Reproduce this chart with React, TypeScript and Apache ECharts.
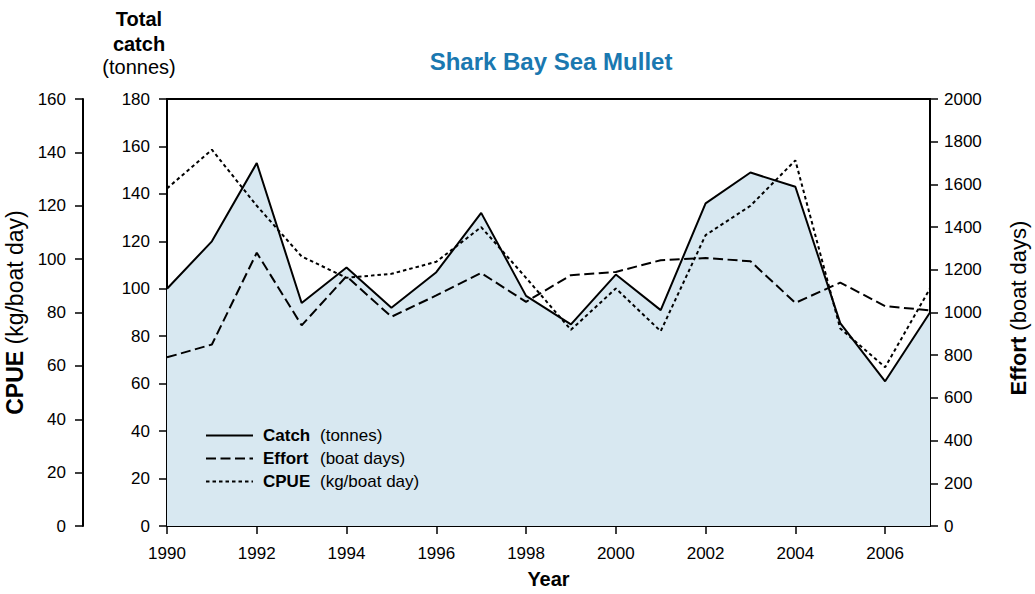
import React, { useEffect, useRef } from "react";
import * as echarts from "echarts";

const years = [1990, 1991, 1992, 1993, 1994, 1995, 1996, 1997, 1998, 1999, 2000, 2001, 2002, 2003, 2004, 2005, 2006, 2007];
const catchTonnes = [100, 120, 153, 94, 109, 92, 107, 132, 97, 85, 106, 91, 136, 149, 143, 85.5, 61, 90];
const effortDays = [790, 850, 1280, 940, 1170, 980, 1080, 1185, 1050, 1175, 1190, 1245, 1255, 1240, 1045, 1140, 1030, 1010];
const cpueKg = [126.5, 141, 120, 101, 93, 94.5, 99, 112, 93, 73.5, 89, 73, 109, 120, 137, 74, 59.5, 89];

const legendNames = ["Catch", "Effort", "CPUE"];
const legendUnits = ["(tonnes)", "(boat days)", "(kg/boat day)"];

const FONT = "'Liberation Sans', Arial, Helvetica, sans-serif";

export default function App() {
  const ref = useRef<HTMLDivElement>(null);
  useEffect(() => {
    if (!ref.current) return;
    const chart = echarts.init(ref.current, null, { renderer: "svg" });
    const pairs = (vals: number[]) => years.map((y, i) => [y, vals[i]]);
    const axisCommon = {
      axisLine: { show: true, lineStyle: { color: "#000", width: 2 } },
      axisTick: { show: true, length: 8, lineStyle: { color: "#000", width: 1.5 } },
      splitLine: { show: false },
    };
    const plain = (v: number) => String(v);
    chart.setOption({
      animation: false,
      textStyle: { fontFamily: FONT },
      title: {
        text: "Shark Bay Sea Mullet",
        left: 546,
        top: 44,
        textAlign: "center",
        textStyle: { color: "#1a78b0", fontSize: 24, fontWeight: "bold", fontFamily: FONT },
      },
      graphic: [
        {
          type: "text",
          x: 139,
          y: 6,
          style: {
            text: "Total\ncatch",
            align: "center",
            verticalAlign: "top",
            font: `bold 20px ${FONT}`,
            lineHeight: 25,
            fill: "#000",
          },
        },
        {
          type: "text",
          x: 139,
          y: 57,
          style: {
            text: "(tonnes)",
            align: "center",
            verticalAlign: "top",
            font: `20px ${FONT}`,
            fill: "#000",
          },
        },
      ],
      grid: {
        left: 167,
        right: 105,
        top: 99,
        bottom: 68,
        show: true,
        borderColor: "#000",
        borderWidth: 2,
        backgroundColor: "transparent",
        outerBoundsMode: "none",
      },
      legend: {
        orient: "vertical",
        left: 200,
        top: 422,
        itemWidth: 47,
        itemHeight: 14,
        itemGap: 6,
        data: legendNames,
        itemStyle: { opacity: 0, color: "transparent", borderWidth: 0 },
        formatter: (name: string) => {
          const i = legendNames.indexOf(name);
          return `{b|${name}}{n|${legendUnits[i]}}`;
        },
        textStyle: {
          fontFamily: FONT,
          fontSize: 17,
          color: "#000",
          padding: [0, 0, 0, 5],
          rich: {
            b: { fontWeight: "bold", fontSize: 17, width: 57, lineHeight: 18, fontFamily: FONT },
            n: { fontSize: 17, lineHeight: 18, fontFamily: FONT },
          },
        },
      },
      xAxis: {
        type: "value",
        min: 1990,
        max: 2007,
        interval: 2,
        ...axisCommon,
        axisLabel: {
          margin: 19,
          fontSize: 17,
          color: "#000",
          showMaxLabel: false,
          formatter: (v: number) => (v === 2007 ? "" : String(v)),
        },
        name: "Year",
        nameLocation: "middle",
        nameGap: 43,
        nameTextStyle: { fontSize: 20, fontWeight: "bold", color: "#000" },
      },
      yAxis: [
        {
          type: "value",
          min: 0,
          max: 180,
          interval: 20,
          position: "left",
          ...axisCommon,
          axisLabel: { margin: 17, fontSize: 17, color: "#000", formatter: plain },
        },
        {
          type: "value",
          min: 0,
          max: 160,
          interval: 20,
          position: "left",
          offset: 84,
          ...axisCommon,
          axisLabel: { margin: 17, fontSize: 17, color: "#000", formatter: plain },
          name: "{b|CPUE} {n|(kg/boat day)}",
          nameLocation: "middle",
          nameRotate: 90,
          nameGap: 26,
          nameTextStyle: {
            color: "#000",
            fontSize: 23,
            fontFamily: FONT,
            padding: [0, 0, 0, 0],
            rich: {
              b: { fontWeight: "bold", fontSize: 23, fontFamily: FONT },
              n: { fontSize: 23, fontFamily: FONT },
            },
          },
        },
        {
          type: "value",
          min: 0,
          max: 2000,
          interval: 200,
          position: "right",
          ...axisCommon,
          axisLabel: { margin: 14, fontSize: 17, color: "#000", formatter: plain },
          name: "{b|Effort} {n|(boat days)}",
          nameLocation: "middle",
          nameRotate: 90,
          nameGap: 77,
          nameTextStyle: {
            color: "#000",
            fontSize: 22,
            fontFamily: FONT,
            padding: [0, 0, 0, 9],
            rich: {
              b: { fontWeight: "bold", fontSize: 22, fontFamily: FONT },
              n: { fontSize: 22, fontFamily: FONT },
            },
          },
        },
      ],
      series: [
        {
          name: "Catch",
          type: "line",
          yAxisIndex: 0,
          data: pairs(catchTonnes),
          symbol: "none",
          lineStyle: { color: "#000", width: 2, type: "solid" },
          itemStyle: { color: "#000" },
          areaStyle: { color: "#d8e8f1", opacity: 1 },
          z: 1,
        },
        {
          name: "Effort",
          type: "line",
          yAxisIndex: 2,
          data: pairs(effortDays),
          symbol: "none",
          lineStyle: { color: "#000", width: 2, type: [10, 4.5] },
          itemStyle: { color: "#000" },
          z: 3,
        },
        {
          name: "CPUE",
          type: "line",
          yAxisIndex: 1,
          data: pairs(cpueKg),
          symbol: "none",
          lineStyle: { color: "#000", width: 2, type: [3.5, 3] },
          itemStyle: { color: "#000" },
          z: 3,
        },
      ],
    });
    return () => chart.dispose();
  }, []);
  return (
    <div
      ref={ref}
      style={{ position: "fixed", left: 0, top: 0, width: 1035, height: 594, background: "#fff" }}
    />
  );
}
